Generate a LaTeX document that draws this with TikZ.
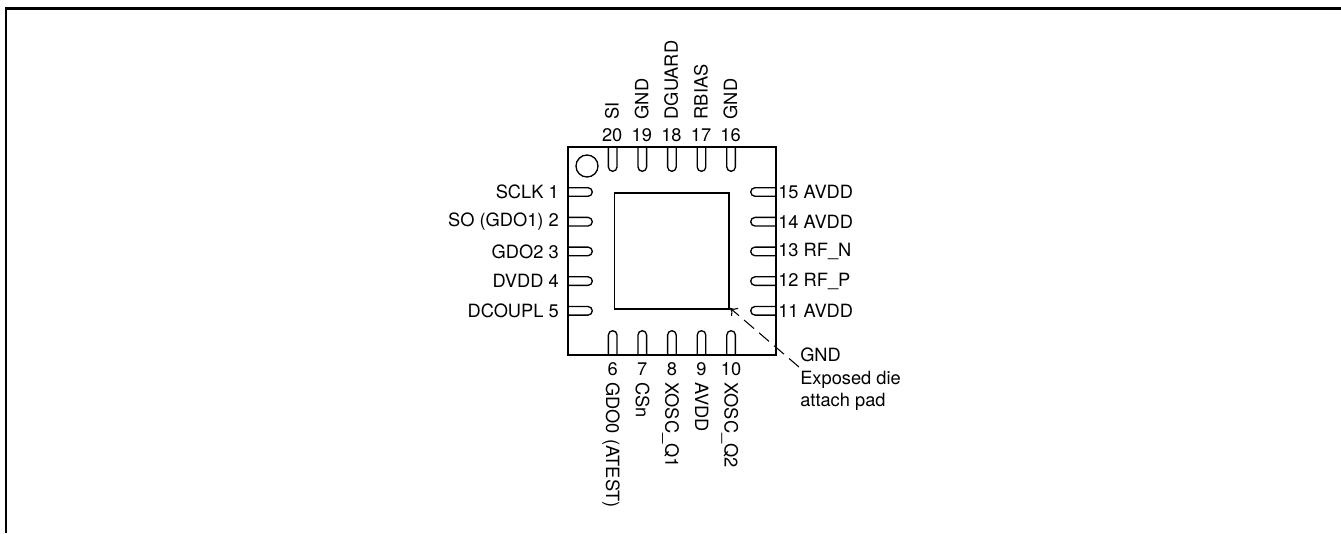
\documentclass[tikz,border=0pt]{standalone}
\usepackage{fontspec}
\setmainfont{TeX Gyre Heros}
\usetikzlibrary{arrows.meta, positioning, calc}

\tikzset{
  pintext/.style={inner sep=0pt, font=\fontsize{13.7}{16}\selectfont},
  pinshape/.style={line width=1pt},
}

\begin{document}
\begin{tikzpicture}[x=0.75pt, y=-0.75pt]
\useasboundingbox (0,0) rectangle (1341,533);
% Outer frame, open at the bottom and on the right
\draw[line width=1.9pt] (6,533) -- (6,8.5) -- (1341,8.5);

% Package and die pad
\node[draw, line width=1pt, minimum width=156pt, minimum height=156pt, inner sep=0pt] (chip) at (672,251) {};
\node[draw, line width=1pt, minimum width=86pt, minimum height=87pt, inner sep=0pt] (pad) at (671.5,251) {};
\node[draw, circle, line width=1pt, minimum size=16.5pt, inner sep=0pt] (dot) at (587,166) {};

% Left pins
\foreach \n/\t [count=\i from 0] in {1/SCLK 1,2/SO (GDO1) 2,3/GDO2 3,4/DVDD 4,5/DCOUPL 5} {
  \pgfmathsetmacro{\py}{192+29.7*\i}
  \draw[pinshape] (568,\py-4.3) -- (588,\py-4.3) arc (-90:90:4.3) -- (568,\py+4.3);
  \node[pintext, anchor=east] (L\n) at (559,\py) {\t};
}

% Right pins
\foreach \n/\t [count=\i from 0] in {15/15 AVDD,14/14 AVDD,13/13 RF\_N,12/12 RF\_P,11/11 AVDD} {
  \pgfmathsetmacro{\py}{192+29.7*\i}
  \draw[pinshape] (776,\py-4.3) -- (755,\py-4.3) arc (270:90:4.3) -- (776,\py+4.3);
  \node[pintext, anchor=west] (R\n) at (778,\py) {\t};
}

% Top pins
\foreach \n/\t [count=\i from 0] in {20/SI,19/GND,18/DGUARD,17/RBIAS,16/GND} {
  \pgfmathsetmacro{\px}{612.7+29.6*\i}
  \draw[pinshape] (\px-4.3,147) -- (\px-4.3,167) arc (180:0:4.3) -- (\px+4.3,147);
  \node[pintext, anchor=base] (T\n) at (\px-0.5,141) {\n};
  \node[pintext, anchor=base west, rotate=90] (TL\n) at (\px+6,119.5) {\t};
}

% Bottom pins
\foreach \n/\t [count=\i from 0] in {6/GDO0 (ATEST),7/CSn,8/XOSC\_Q1,9/AVDD,10/XOSC\_Q2} {
  \pgfmathsetmacro{\px}{612.7+29.6*\i}
  \draw[pinshape] (\px-4.3,355) -- (\px-4.3,335) arc (180:360:4.3) -- (\px+4.3,355);
  \node[pintext, anchor=base] (B\n) at (\px,375) {\n};
  \node[pintext, anchor=base west, rotate=-90] (BL\n) at (\px-6.5,382) {\t};
}

% Label for exposed pad
\coordinate (padcorner) at (730,308);
\coordinate (padstart) at (799,367);
\node[pintext, anchor=base west] (padgnd) at (800,361) {GND};
\node[pintext, anchor=base west] (padexp) at (800,384) {Exposed die};
\node[pintext, anchor=base west] (padatt) at (800,406) {attach pad};
\draw[-{To[length=5pt,width=8pt]}, line width=0.8pt, dash pattern=on 9.8pt off 5pt] (padstart) -- (padcorner);
\end{tikzpicture}
\end{document}
